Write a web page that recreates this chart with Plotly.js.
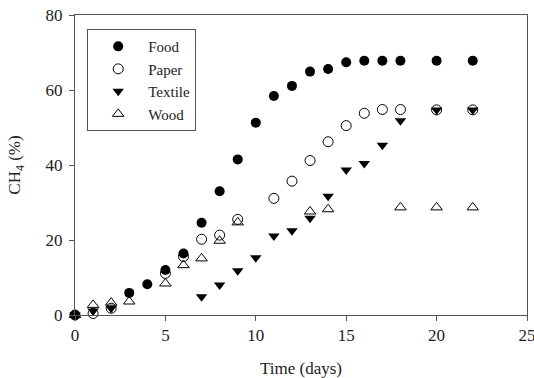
<!DOCTYPE html>
<html>
<head>
<meta charset="utf-8">
<script src="https://cdn.plot.ly/plotly-3.0.1.min.js"></script>
<style>html,body{margin:0;padding:0;background:#fff;}#chart{width:534px;height:378px;}</style>
</head>
<body>
<div id="chart"></div>
<script>
// Data
const foodDays   = [0, 3, 4, 5, 6, 7, 8, 9, 10, 11, 12, 13, 14, 15, 16, 17, 18, 20, 22];
const foodCH4    = [0, 5.9, 8.2, 12, 16.4, 24.6, 33, 41.5, 51.3, 58.4, 61.1, 64.9, 65.6, 67.4, 67.8, 67.8, 67.8, 67.8, 67.8];

const paperDays  = [0, 1, 2, 5, 6, 7, 8, 9, 11, 12, 13, 14, 15, 16, 17, 18, 20, 22];
const paperCH4   = [0, 0.4, 1.8, 11.1, 15.6, 20.2, 21.3, 25.5, 31.1, 35.7, 41.2, 46.2, 50.5, 53.8, 54.8, 54.8, 54.7, 54.7];

const textileDays = [0, 1, 2, 7, 8, 9, 10, 11, 12, 13, 14, 15, 16, 17, 18, 20, 22];
const textileCH4  = [0, 1.1, 1.8, 4.9, 8, 11.8, 15.3, 21.1, 22.5, 25.8, 31.7, 38.7, 40.4, 45.3, 51.8, 54.7, 54.7];

const woodDays   = [0, 1, 2, 3, 5, 6, 7, 8, 9, 13, 14, 18, 20, 22];
const woodCH4    = [0, 2.7, 3.3, 3.6, 8.4, 13.3, 15.1, 19.8, 24.7, 27.6, 28.2, 28.7, 28.7, 28.7];

const xTicks = [0, 5, 10, 15, 20, 25];
const yTicks = [0, 20, 40, 60, 80];

const FONT = 'Liberation Serif';
const INK = '#000';
const TXT = '#222';

function series(name, x, y, symbol, size) {
  return {
    type: 'scatter', mode: 'markers', name: name, x: x, y: y,
    cliponaxis: false,
    marker: {symbol: symbol, size: size, color: INK, line: {color: INK, width: 1}}
  };
}

const data = [
  series('Food', foodDays, foodCH4, 'circle', 10),
  series('Paper', paperDays, paperCH4, 'circle-open', 10),
  series('Textile', textileDays, textileCH4, 'triangle-down', 10),
  series('Wood', woodDays, woodCH4, 'triangle-up-open', 10)
];
data[0].marker.line.width = 0;
data[2].marker.line.width = 0;

const axisCommon = {
  showline: true, mirror: true, linecolor: '#555', linewidth: 1,
  ticks: 'outside', ticklen: 5, tickcolor: '#555', tickwidth: 1,
  showgrid: false, zeroline: false, ticklabeloverflow: 'allow',
  tickfont: {family: FONT, size: 17, color: TXT}
};

const layout = {
  width: 534, height: 378,
  margin: {l: 75, r: 7, t: 15, b: 63},
  paper_bgcolor: '#fff', plot_bgcolor: '#fff',
  font: {family: FONT, color: TXT},
  showlegend: true,
  legend: {
    x: 0.027, y: 0.953, xanchor: 'left', yanchor: 'top',
    bordercolor: '#555', borderwidth: 1, bgcolor: '#fff',
    font: {family: FONT, size: 15, color: TXT},
    itemwidth: 50, tracegroupgap: 0
  },
  xaxis: Object.assign({}, axisCommon, {
    range: [0, 25], tickmode: 'array', tickvals: xTicks, ticktext: xTicks.map(String),
    title: {text: 'Time (days)', font: {family: FONT, size: 17, color: TXT}, standoff: 18}
  }),
  yaxis: Object.assign({}, axisCommon, {
    range: [0, 80], tickmode: 'array', tickvals: yTicks, ticktext: yTicks.map(String),
    ticklabelstandoff: 3,
    title: {text: 'CH<sub>4</sub> (%)', font: {family: FONT, size: 17, color: TXT}, standoff: 20}
  })
};

Plotly.newPlot('chart', data, layout, {staticPlot: true, displayModeBar: false});
</script>
</body>
</html>
